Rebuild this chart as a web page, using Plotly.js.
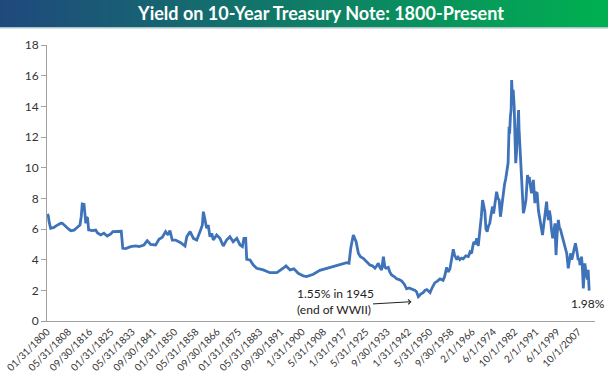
<!DOCTYPE html>
<html>
<head>
<meta charset="utf-8">
<script src="https://cdn.plot.ly/plotly-3.0.1.min.js"></script>
<style>
html,body{margin:0;padding:0;background:#fff;}
#chart{width:608px;height:378px;}
</style>
</head>
<body>
<div id="chart"></div>
<script>
const years = [
1800.2,1800.6,1800.9,1801.5,1802.2,1802.8,1803.8,1804.8,1805.5,1806.1,1807.4,1808.5,1809.4,1810.7,1812.0,1813.0,1813.5,1813.9,1814.6,1815.0,
1815.3,1815.6,1816.0,1816.4,1817.8,1819.2,1819.8,1821.1,1822.4,1823.7,1825.1,1825.9,1829.2,1829.8,1830.9,1832.9,1834.9,1836.2,1838.1,1839.4,
1840.7,1842.7,1844.0,1845.3,1846.6,1847.5,1848.3,1849.2,1850.5,1852.5,1852.9,1854.2,1854.9,1856.2,1857.5,1858.8,1860.1,1861.0,1861.4,1862.0,
1862.7,1863.3,1864.0,1864.7,1865.3,1866.6,1867.9,1869.2,1870.5,1871.8,1873.1,1874.5,1875.8,1876.7,1877.3,1878.0,1878.4,1879.7,1881.0,1882.3,
1884.9,1887.5,1890.2,1892.7,1893.8,1895.4,1896.9,1898.6,1900.6,1901.9,1904.5,1907.1,1911.0,1914.0,1917.6,1918.5,1919.2,1920.2,1921.0,1921.3,
1922.2,1923.0,1924.1,1925.0,1926.0,1926.7,1927.7,1928.7,1929.4,1930.0,1930.6,1931.3,1932.0,1932.6,1933.0,1933.9,1934.5,1935.2,1936.2,1937.2,
1938.2,1939.2,1940.2,1941.1,1942.1,1943.1,1944.4,1945.0,1945.7,1946.6,1947.6,1948.3,1949.0,1949.7,1950.3,1951.2,1952.2,1953.2,1954.2,1955.4,
1956.0,1956.8,1957.4,1958.1,1958.7,1959.4,1959.9,1960.8,1961.3,1962.0,1962.6,1963.3,1964.3,1965.3,1966.0,1966.6,1967.1,1967.5,1968.0,1968.6,
1969.2,1969.9,1970.4,1970.9,1971.3,1971.8,1972.2,1972.7,1973.2,1973.7,1974.2,1974.8,1975.2,1975.7,1976.0,1976.4,1976.9,1977.4,1977.9,1978.4,
1978.9,1979.5,1980.0,1980.5,1980.9,1981.3,1981.5,1981.8,1982.1,1982.3,1982.6,1982.9,1983.3,1983.6,1983.9,1984.2,1984.4,1984.7,1985.0,1985.2,
1985.5,1985.9,1986.2,1986.6,1986.9,1987.4,1987.9,1988.2,1988.5,1988.9,1989.2,1989.5,1990.1,1990.4,1990.8,1991.1,1991.4,1991.8,1992.3,1992.8,
1993.4,1993.9,1994.4,1994.9,1995.4,1996.0,1996.3,1996.7,1997.1,1997.5,1997.9,1998.4,1998.9,1999.3,1999.5,1999.7,2000.1,2000.6,2001.0,2001.5,
2002.0,2002.6,2003.2,2003.9,2004.2,2004.5,2005.0,2005.5,2005.9,2006.2,2006.8,2007.3,2007.8,2008.1,2008.4,2008.8,2009.1,2009.4,2009.7,2010.0,
2010.4,2010.7,2011.0,2011.3,2011.7,2012.0,2012.3,2012.7
];
const yields = [
6.98,6.85,6.48,6.05,6.08,6.10,6.22,6.33,6.38,6.37,6.15,6.00,5.89,5.93,6.11,6.26,6.80,7.63,7.60,6.91,
6.37,6.76,6.70,5.94,5.89,5.93,5.76,5.61,5.72,5.54,5.68,5.83,5.85,4.74,4.72,4.85,4.90,4.85,4.96,5.24,
5.00,4.96,5.33,5.46,5.83,5.61,5.89,5.28,5.28,5.11,5.07,4.89,5.50,5.83,5.39,5.28,5.83,6.26,7.13,6.59,
6.05,6.26,5.50,5.72,5.28,5.61,5.39,4.89,5.28,5.50,5.17,5.39,4.96,4.85,5.39,5.39,4.02,3.98,3.65,3.44,
3.33,3.15,3.15,3.44,3.59,3.33,3.40,3.11,2.94,2.90,3.05,3.30,3.50,3.65,3.80,3.76,4.74,5.61,5.30,5.17,
4.41,4.20,4.09,3.95,3.80,3.65,3.60,3.44,3.60,3.76,3.50,3.33,4.20,3.50,3.44,3.50,3.20,3.00,2.90,2.75,
2.70,2.60,2.40,2.10,2.15,2.10,2.00,1.90,1.59,1.75,1.85,2.00,2.05,1.95,1.85,2.20,2.50,2.60,2.75,2.65,
2.90,3.50,3.20,3.40,3.90,4.68,4.30,4.00,4.15,4.00,4.10,4.05,4.25,4.20,4.50,4.41,4.90,5.17,5.00,5.39,
4.90,5.94,6.80,7.89,7.50,7.13,6.00,5.83,6.20,6.37,6.90,7.46,7.00,7.68,7.90,8.43,8.00,7.89,6.80,7.60,
8.33,8.90,9.31,9.80,10.30,12.67,12.20,13.33,13.80,15.72,14.50,15.07,13.98,12.00,10.29,11.00,11.59,12.80,13.76,12.50,
11.59,10.80,9.63,8.20,7.03,7.40,7.89,8.70,9.52,9.00,9.40,8.98,8.33,8.80,9.20,8.50,7.68,8.40,8.33,7.20,
6.50,6.10,5.60,6.30,7.03,7.78,7.10,6.59,7.20,6.80,6.00,5.39,5.90,6.37,5.20,4.30,5.60,6.59,6.10,5.94,
5.60,5.17,4.80,4.41,3.90,3.44,4.00,4.41,4.00,4.20,4.60,5.07,4.63,4.40,3.98,4.10,3.65,3.80,4.20,3.60,
2.13,3.00,3.76,3.40,3.11,2.70,3.33,1.98
];
const tickLabels = ["01/31/1800","05/31/1808","09/30/1816","01/31/1825","05/31/1833","09/30/1841","01/31/1850","05/31/1858",
"09/30/1866","01/31/1875","05/31/1883","09/30/1891","1/31/1900","5/31/1908","1/31/1917","5/31/1925","9/30/1933","1/31/1942",
"5/31/1950","9/30/1958","2/1/1966","6/1/1974","10/1/1982","2/1/1991","6/1/1999","10/1/2007"];
const yTicks = [0,2,4,6,8,10,12,14,16,18];
const chartTitle = "Yield on 10-Year Treasury Note: 1800-Present";
const noteWWII = "1.55% in 1945<br>(end of WWII)";
const noteLast = "1.98%";

// layout geometry
const W = 608, H = 378, L = 47, R = 13, T = 45, B = 57;
const pw = W - L - R, ph = H - T - B;
const x0 = 1800.08, pxPerYear = 2.55;
const xmax = x0 + pw / pxPerYear;
const tickvals = tickLabels.map((_, k) => x0 + k * 100 / 12);
const px2x = p => x0 + (p - L) / pxPerYear;
const py2y = q => (T + ph - q) / ph * 18;
const pxPaper = p => (p - L) / pw;
const pyPaper = q => (T + ph - q) / ph;

// gradient title bar from thin rectangles
const shapes = [];
const N = 152;
const c0 = [31, 73, 125], c1 = [0, 176, 80];
for (let i = 0; i < N; i++) {
  const t = i / (N - 1);
  const c = c0.map((v, j) => Math.round(v + (c1[j] - v) * t));
  shapes.push({type: 'rect', xref: 'paper', yref: 'paper', layer: 'below',
    x0: pxPaper(i * W / N), x1: pxPaper((i + 1) * W / N + 0.5),
    y0: pyPaper(27), y1: pyPaper(0), line: {width: 0},
    fillcolor: `rgb(${c[0]},${c[1]},${c[2]})`});
}
shapes.push({type: 'rect', xref: 'paper', yref: 'paper', layer: 'below',
  x0: pxPaper(0), x1: pxPaper(W), y0: pyPaper(28.5), y1: pyPaper(27),
  line: {width: 0}, fillcolor: '#a9c3c8'});

const font = 'Lato, "Open Sans", sans-serif';

const trace = {
  x: years, y: yields, type: 'scatter', mode: 'lines',
  line: {color: '#3f73b9', width: 2.8}, hoverinfo: 'skip'
};

const layout = {
  width: W, height: H,
  margin: {l: L, r: R, t: T, b: B, pad: 0},
  paper_bgcolor: '#fff', plot_bgcolor: '#fff',
  showlegend: false,
  title: {text: '<b>' + chartTitle + '</b>', font: {family: font, size: 18, color: '#fff'},
    x: 0.5, xref: 'paper', xanchor: 'center', y: 1 - 14 / H, yref: 'container', yanchor: 'middle'},
  xaxis: {range: [x0, xmax], tickmode: 'array', tickvals: tickvals, ticktext: tickLabels,
    tickangle: -45, ticks: '', showgrid: false, zeroline: false, showline: true,
    linecolor: '#a0a0a0', linewidth: 1, automargin: false,
    tickfont: {family: font, size: 10, color: '#333'}},
  yaxis: {range: [0, 18], tickmode: 'array', tickvals: yTicks, ticks: 'outside', ticklen: 5,
    tickcolor: '#a0a0a0', showgrid: false, zeroline: false, showline: true,
    linecolor: '#a0a0a0', linewidth: 1, automargin: false,
    tickfont: {family: font, size: 12, color: '#333'}},
  shapes: shapes,
  annotations: [
    {x: px2x(295), y: py2y(301), xref: 'x', yref: 'y', text: noteWWII, showarrow: false,
     xanchor: 'left', yanchor: 'middle', align: 'left', font: {family: font, size: 12, color: '#222'}},
    {x: px2x(411.5), y: py2y(301.7), ax: px2x(371.5), ay: py2y(304), xref: 'x', yref: 'y',
     axref: 'x', ayref: 'y', text: '', showarrow: true, arrowhead: 4, arrowsize: 1,
     arrowwidth: 1, arrowcolor: '#222', standoff: 0},
    {x: px2x(587.5), y: py2y(303), xref: 'x', yref: 'y', text: noteLast, showarrow: false,
     xanchor: 'center', yanchor: 'middle', font: {family: font, size: 12, color: '#222'}}
  ]
};

Plotly.newPlot('chart', [trace], layout, {displayModeBar: false, staticPlot: true});
</script>
</body>
</html>
